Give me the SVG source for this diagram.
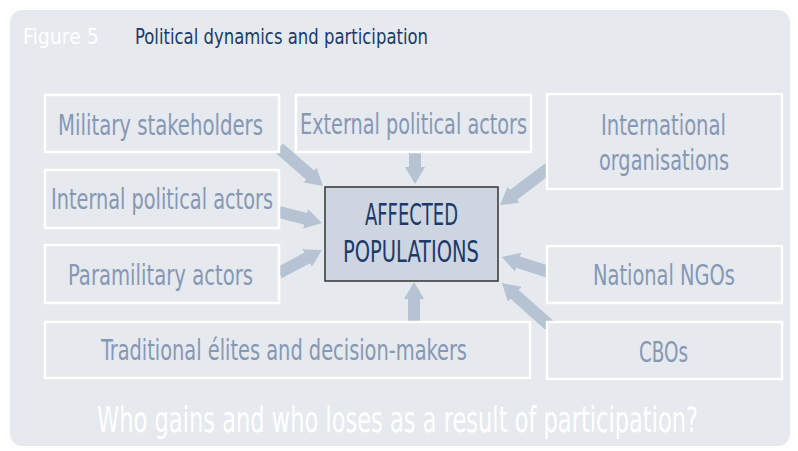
<svg xmlns="http://www.w3.org/2000/svg" width="798" height="451" viewBox="0 0 798 451">
  <style>
    .lbl { font-family: "Liberation Sans Narrow", "DejaVu Sans Condensed", "Liberation Sans", sans-serif; font-size: 29px; fill: #8598b5; }
    .box { fill: #e6e9ee; stroke: #ffffff; stroke-width: 2.5; }
    .arr { stroke: #b5c3d3; stroke-width: 12; fill: none; marker-end: url(#head); }
    .core { fill: #cdd5e0; stroke: #333333; stroke-width: 1.5; }
    .coretxt { font-family: "Liberation Sans Narrow", "DejaVu Sans Condensed", "Liberation Sans", sans-serif; font-size: 31px; fill: #1b3a6b; }
    .ttl { font-family: "Liberation Sans Narrow", "DejaVu Sans Condensed", "Liberation Sans", sans-serif; font-size: 22px; }
  </style>
  <defs>
    <marker id="head" markerUnits="userSpaceOnUse" viewBox="0 -10 17 20" markerWidth="17" markerHeight="20" refX="1" refY="0" orient="auto">
      <path d="M0,-10 L17,0 L0,10 z" fill="#b5c3d3"/>
    </marker>
  </defs>
  <rect x="0" y="0" width="798" height="451" fill="#ffffff"/>
  <rect x="10" y="10" width="780" height="436" rx="12" fill="#e6e9ee"/>
  <g id="title">
    <text class="ttl" x="0" y="0" transform="translate(23,44) scale(0.75,1)" fill="#ffffff" textLength="101.3" lengthAdjust="spacingAndGlyphs">Figure 5</text>
    <text class="ttl" x="0" y="0" transform="translate(135,44) scale(0.75,1)" fill="#1b3a6b" textLength="390.7" lengthAdjust="spacingAndGlyphs">Political dynamics and participation</text>
  </g>
  <g id="connectors">
    <line class="arr" x1="279" y1="148" x2="310.8" y2="175.6"/>
    <line class="arr" x1="415" y1="152" x2="415" y2="168"/>
    <line class="arr" x1="549" y1="168" x2="512.8" y2="195.4"/>
    <line class="arr" x1="279" y1="212" x2="306.5" y2="219"/>
    <line class="arr" x1="279" y1="273" x2="307.9" y2="257.5"/>
    <line class="arr" x1="549" y1="272" x2="517.2" y2="261.9"/>
    <line class="arr" x1="549" y1="325" x2="513.9" y2="293.7"/>
    <line class="arr" x1="414" y1="322" x2="414" y2="298"/>
  </g>
  <g id="military">
    <rect class="box" x="45" y="95" width="234" height="57"/>
    <text class="lbl" x="0" y="0" transform="translate(58,135) scale(0.72,1)" textLength="284.7" lengthAdjust="spacingAndGlyphs">Military stakeholders</text>
  </g>
  <g id="external">
    <rect class="box" x="296" y="95" width="235" height="57"/>
    <text class="lbl" x="0" y="0" transform="translate(300,134) scale(0.72,1)" textLength="315.3" lengthAdjust="spacingAndGlyphs">External political actors</text>
  </g>
  <g id="international">
    <rect class="box" x="547" y="94" width="235" height="95"/>
    <text class="lbl" x="0" y="0" transform="translate(601,135) scale(0.72,1)" textLength="173.6" lengthAdjust="spacingAndGlyphs">International</text>
    <text class="lbl" x="0" y="0" transform="translate(599,170) scale(0.72,1)" textLength="180.6" lengthAdjust="spacingAndGlyphs">organisations</text>
  </g>
  <g id="internal">
    <rect class="box" x="45" y="170" width="234" height="58"/>
    <text class="lbl" x="0" y="0" transform="translate(51,209) scale(0.72,1)" textLength="308.3" lengthAdjust="spacingAndGlyphs">Internal political actors</text>
  </g>
  <g id="paramilitary">
    <rect class="box" x="45" y="245" width="234" height="58"/>
    <text class="lbl" x="0" y="0" transform="translate(68,285) scale(0.72,1)" textLength="256.9" lengthAdjust="spacingAndGlyphs">Paramilitary actors</text>
  </g>
  <g id="national">
    <rect class="box" x="547" y="246" width="235" height="57"/>
    <text class="lbl" x="0" y="0" transform="translate(593,285) scale(0.72,1)" textLength="197.2" lengthAdjust="spacingAndGlyphs">National NGOs</text>
  </g>
  <g id="traditional">
    <rect class="box" x="45" y="322" width="485" height="56"/>
    <text class="lbl" x="0" y="0" transform="translate(101,360) scale(0.72,1)" textLength="508.3" lengthAdjust="spacingAndGlyphs">Traditional élites and decision-makers</text>
  </g>
  <g id="cbos">
    <rect class="box" x="547" y="322" width="235" height="57"/>
    <text class="lbl" x="0" y="0" transform="translate(639,362) scale(0.72,1)" textLength="68.1" lengthAdjust="spacingAndGlyphs">CBOs</text>
  </g>
  <g id="affected">
    <rect class="core" x="325" y="187" width="173" height="94"/>
    <text class="coretxt" x="0" y="0" transform="translate(365,225) scale(0.75,1)" textLength="124" lengthAdjust="spacingAndGlyphs">AFFECTED</text>
    <text class="coretxt" x="0" y="0" transform="translate(343,262) scale(0.75,1)" textLength="181.3" lengthAdjust="spacingAndGlyphs">POPULATIONS</text>
  </g>
  <g id="question">
    <text x="0" y="0" transform="translate(97,432) scale(0.65,1)" font-family="Liberation Sans Narrow, DejaVu Sans Condensed, Liberation Sans, sans-serif" font-size="35" fill="#ffffff" textLength="924.6" lengthAdjust="spacingAndGlyphs">Who gains and who loses as a result of participation?</text>
  </g>
</svg>
